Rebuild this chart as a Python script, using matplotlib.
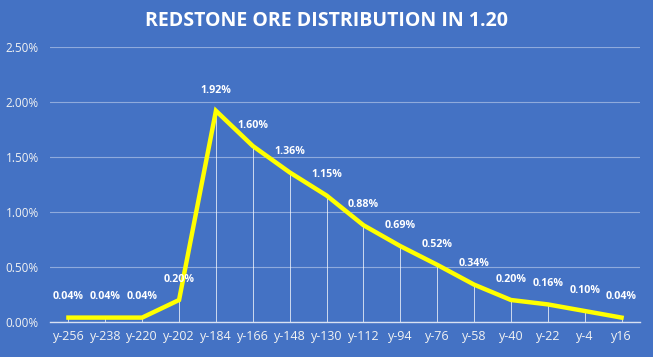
import numpy as np
import matplotlib.pyplot as plt
import matplotlib as mpl

mpl.rcParams['font.family'] = ['Open Sans', 'DejaVu Sans']

levels = ['y-256', 'y-238', 'y-220', 'y-202', 'y-184', 'y-166', 'y-148', 'y-130',
          'y-112', 'y-94', 'y-76', 'y-58', 'y-40', 'y-22', 'y-4', 'y16']
share = [0.04, 0.04, 0.04, 0.20, 1.92, 1.60, 1.36, 1.15,
         0.88, 0.69, 0.52, 0.34, 0.20, 0.16, 0.10, 0.04]

bg = '#4472C4'
fig = plt.figure(figsize=(6.53, 3.57), dpi=100, facecolor=bg)
ax = fig.add_axes([50/653, 35/357, 590/653, 275/357])
ax.set_facecolor(bg)

x = np.arange(len(levels))
ax.vlines(x, 0, share, color='white', lw=0.6, alpha=0.85, zorder=2)
ax.plot(x, share, color='#FFFF00', lw=3.2, solid_joinstyle='miter', zorder=3)

for xi, v in zip(x, share):
    ax.annotate('{:.2f}%'.format(v), (xi, v), xytext=(0, 11), textcoords='offset points',
                ha='center', va='bottom', color='white', fontsize=7.7, fontweight='bold',
                zorder=4)

ax.set_xlim(-0.5, len(levels) - 0.5)
ax.set_ylim(0, 2.5)
ax.set_yticks(np.arange(0, 2.51, 0.5))
ax.set_yticklabels(['{:.2f}%'.format(t) for t in np.arange(0, 2.51, 0.5)])
ax.set_xticks(x)
ax.set_xticklabels(levels)
ax.tick_params(colors='#F2F2F2', labelsize=8.5, length=0)
ax.tick_params(axis='x', labelsize=9, pad=6)
ax.tick_params(axis='y', pad=8)
ax.grid(axis='y', color='#8FAADC', lw=0.8)
ax.set_axisbelow(True)
for s in ['top', 'right', 'left']:
    ax.spines[s].set_visible(False)
ax.spines['bottom'].set_color('#D9E1F2')
ax.spines['bottom'].set_linewidth(1)

fig.text(0.5, 1 - 21/357, 'REDSTONE ORE DISTRIBUTION IN 1.20', ha='center', va='center',
         color='white', fontsize=14, fontweight='bold')

fig.savefig('out.png', dpi=100, facecolor=bg)
